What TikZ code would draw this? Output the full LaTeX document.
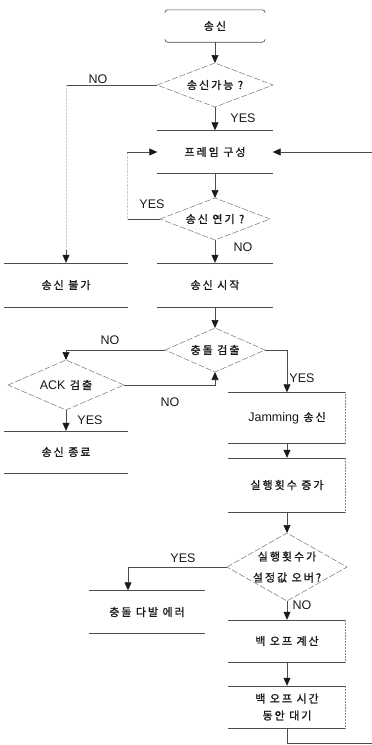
\documentclass[tikz,border=0pt]{standalone}
\usepackage{fontspec}
\setmainfont{Liberation Sans}
\newfontfamily\kr[LetterSpace=18,FakeBold=1.2]{Noto Sans CJK KR}
\usetikzlibrary{arrows.meta}
% Latin words inside Korean labels
\newcommand\lat[1]{{\rmfamily\fontsize{12.5}{15}\selectfont #1}}
% decision diamond: name, x, y, half-width, half-height, text
\newcommand\decision[6]{%
  \node[dtext] (#1) at (#2,#3) {#6};
  \path (#2,#3) ++(-#4,0) coordinate (#1-w)
        (#2,#3) ++(#4,0) coordinate (#1-e)
        (#2,#3) ++(0,-#5) coordinate (#1-n)
        (#2,#3) ++(0,#5) coordinate (#1-s);
  \draw[dline] (#1-w) -- (#1-n) -- (#1-e) -- (#1-s) -- cycle;}
\begin{document}
\begin{tikzpicture}[x=1pt,y=-1pt,
  line/.style={draw=black!70, line width=0.6pt},
  arr/.style={line, -{Triangle[width=7pt,length=8pt,color=black!90]}},
  faint/.style={draw=black!20, line width=0.4pt, densely dotted},
  dline/.style={draw=black!55, line width=0.5pt, dash pattern=on 6pt off 2pt},
  boxline/.style={draw=black!70, line width=0.6pt},
  sideline/.style={draw=black!45, line width=0.5pt, densely dotted},
  proc/.style={inner sep=0pt, align=center, font=\kr\fontsize{11}{17}\selectfont, text=black!90},
  dtext/.style={inner sep=0pt, align=center, font=\kr\fontsize{11}{17}\selectfont, text=black!90},
  lbl/.style={inner sep=0pt, font=\fontsize{12.5}{15}\selectfont, text=black!90},
]
\useasboundingbox (0,0) rectangle (372,745);

% ---- blocks ----
\node[proc, minimum width=100pt, minimum height=32pt] (start) at (215,26) {송신};
\decision{d1}{215}{85}{58}{22}{송신가능 ?}
\node[proc, minimum width=115pt, minimum height=43pt] (frame) at (215,152) {프레임 구성};
\decision{d2}{215}{219}{55}{21}{송신 연기 ?}
\node[proc, minimum width=124pt, minimum height=44pt] (fail) at (66,285) {송신 불가};
\node[proc, minimum width=115pt, minimum height=44pt] (txstart) at (215,285) {송신 시작};
\decision{d3}{215}{350}{50}{22}{충돌 검출}
\decision{d4}{66}{385}{58}{25}{\lat{ACK} 검출}
\node[proc, minimum width=124pt, minimum height=42pt] (done) at (66,452) {송신 종료};
\node[proc, minimum width=117pt, minimum height=51pt] (jam) at (287,418) {\lat{Jamming} 송신};
\node[proc, minimum width=117pt, minimum height=54pt] (inc) at (287,485) {실행횟수 증가};
\decision{d5}{287}{567}{60}{34}{실행횟수가\\[4pt]설정값 오버?}
\node[proc, minimum width=115pt, minimum height=43pt] (err) at (147,612) {충돌 다발 에러};
\node[proc, minimum width=117pt, minimum height=42pt] (calc) at (287,641) {백 오프 계산};
\node[proc, minimum width=117pt, minimum height=42pt] (wait) at (287,707) {백 오프 시간\\동안 대기};

% start terminator: top and bottom edges with rounded ends
\draw[boxline, rounded corners=3pt]
  ([yshift=-3pt]start.north west) -- (start.north west) -- (start.north east) -- ([yshift=-3pt]start.north east)
  ([yshift=3pt]start.south west) -- (start.south west) -- (start.south east) -- ([yshift=3pt]start.south east);

% process blocks: top and bottom rules
\foreach \n in {frame,fail,txstart,done,jam,inc,err,calc,wait}
  \draw[boxline] (\n.north west) -- (\n.north east) (\n.south west) -- (\n.south east);
\foreach \n in {jam,inc,calc,wait}
  \draw[sideline] (\n.north east) -- (\n.south east);

% ---- connectors ----
\coordinate (noA) at (66,85);
\coordinate (noB) at (66,250);
\coordinate (yesA) at (127,219);
\coordinate (yesB) at (127,152);
\coordinate (loop) at (395,743);

\draw[arr] (start.south) -- (d1-n);
\draw[arr] (d1-s) -- (frame.north);
\draw[line] (d1-w) -- (noA);
\draw[faint] (noA) -- (noB);
\draw[arr] (noB) -- (fail.north);
\draw[arr] (frame.south) -- (d2-n);
\draw[line] (d2-w) -- (yesA);
\draw[faint] (yesA) -- (yesB);
\draw[arr] (yesB) -- (frame.west);
\draw[arr] (d2-s) -- (txstart.north);
\draw[arr] (txstart.south) -- (d3-n);
\draw[arr] (d3-w) -| (d4-n);
\draw[arr] (d4-e) -| (d3-s);
\draw[arr] (d4-s) -- (done.north);
\draw[arr] (d3-e) -| (jam.north);
\draw[arr] (jam.south) -- (inc.north);
\draw[arr] (inc.south) -- (d5-n);
\draw[arr] (d5-w) -| ([xshift=-19pt]err.north);
\draw[arr] (d5-s) -- (calc.north);
\draw[arr] (calc.south) -- (wait.north);
\draw[arr] (wait.south) |- (loop) |- (frame.east);

% ---- branch labels ----
\node[lbl] (l1) at (98,79) {NO};
\node[lbl] (l2) at (243,118) {YES};
\node[lbl] (l3) at (152,204) {YES};
\node[lbl] (l4) at (243,247) {NO};
\node[lbl] (l5) at (110,340) {NO};
\node[lbl] (l6) at (170,402) {NO};
\node[lbl] (l7) at (90,420) {YES};
\node[lbl] (l8) at (302,378) {YES};
\node[lbl] (l9) at (183,558) {YES};
\node[lbl] (l10) at (302,605) {NO};
\end{tikzpicture}
\end{document}
